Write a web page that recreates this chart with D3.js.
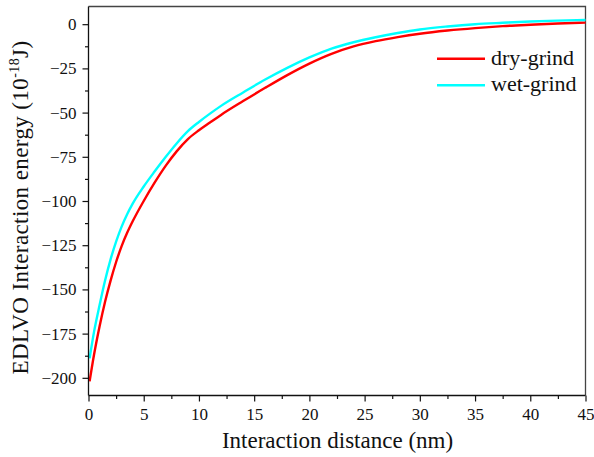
<!DOCTYPE html>
<html>
<head>
<meta charset="utf-8">
<script src="https://cdn.jsdelivr.net/npm/d3@7"></script>
<style>
  html, body { margin: 0; padding: 0; background: #fff; }
  svg { display: block; }
  text { fill: #111; font-family: "Liberation Serif", serif; }
</style>
</head>
<body>
<svg id="chart" width="594" height="457"></svg>
<script>
// Interaction distance (nm)
const distance = [0.1, 0.5, 1, 1.5, 2, 2.5, 3, 3.5, 4, 5, 6, 7, 8, 9, 10, 11, 12, 14, 16, 18, 20, 22, 24, 26, 28, 30, 32.5, 35, 37.5, 40, 42.5, 45];

// EDLVO interaction energy (10^-18 J)
const dryGrind = [-202, -187, -171, -157, -145, -134.5, -125.5, -118, -111.5, -100, -89.5, -80, -71.8, -65, -60, -55.6, -51.3, -43.5, -36, -28.8, -22.3, -16.8, -12.6, -9.6, -7.3, -5.4, -3.6, -2.2, -1.1, -0.3, 0.4, 0.9];
const wetGrind = [-189, -174, -159, -145, -133, -123, -114.5, -107.5, -101.5, -91.8, -83.2, -75, -67.3, -60.5, -55.3, -50.6, -46.2, -38.6, -31.3, -24.7, -18.8, -13.8, -10.2, -7.4, -5, -3, -1.3, 0, 0.8, 1.5, 2.0, 2.4];

const xTicks = [0, 5, 10, 15, 20, 25, 30, 35, 40, 45];
const yTicks = [0, -25, -50, -75, -100, -125, -150, -175, -200];

const series = [
  { name: "dry-grind", values: dryGrind, color: "#ff0000" },
  { name: "wet-grind", values: wetGrind, color: "#00ffff" }
];

const svg = d3.select("#chart");
const plot = { left: 88.5, right: 585.5, top: 6.5, bottom: 395.5 };

const x = d3.scaleLinear().domain([0, 45]).range([plot.left, plot.right]);
const y = d3.scaleLinear().domain([-210, 10]).range([plot.bottom, plot.top]);

// frame on the top and right
svg.append("path")
  .attr("d", `M${plot.left},${plot.top}H${plot.right}V${plot.bottom}`)
  .attr("fill", "none").attr("stroke", "#444").attr("stroke-width", 1.3);

// curves
const line = d3.line()
  .x((d, i) => x(distance[i]))
  .y(d => y(d))
  .curve(d3.curveMonotoneX);

svg.append("g").selectAll("path")
  .data(series)
  .join("path")
  .attr("d", d => line(d.values))
  .attr("fill", "none")
  .attr("stroke", d => d.color)
  .attr("stroke-width", 2.4);

// minor ticks at the half steps
const xMinor = d3.range(2.5, 45, 5);
const yMinor = d3.range(-212.5, 10, 25).filter(v => v >= -210 && v <= 10);

const gx = svg.append("g").attr("transform", `translate(0,${plot.bottom})`);
gx.call(d3.axisBottom(x).tickValues(xMinor).tickSize(3.5).tickFormat(""));
gx.call(g => g.select(".domain").remove());
const gxMajor = svg.append("g").attr("transform", `translate(0,${plot.bottom})`)
  .call(d3.axisBottom(x).tickValues(xTicks).tickSize(6).tickPadding(6).tickFormat(d3.format("d")));

const gy = svg.append("g").attr("transform", `translate(${plot.left},0)`);
gy.call(d3.axisLeft(y).tickValues(yMinor).tickSize(3.5).tickFormat(""));
gy.call(g => g.select(".domain").remove());
const gyMajor = svg.append("g").attr("transform", `translate(${plot.left},0)`)
  .call(d3.axisLeft(y).tickValues(yTicks).tickSize(6).tickPadding(6).tickFormat(d3.format("d")));

svg.selectAll(".tick line").attr("stroke", "#111").attr("stroke-width", 1.2);
svg.selectAll(".domain").attr("stroke", "#111").attr("stroke-width", 1.3);
gxMajor.select(".domain").attr("d", `M${plot.left},0H${plot.right}`);
gyMajor.select(".domain").attr("d", `M0,${plot.bottom}V${plot.top}`);
svg.selectAll("g").attr("font-family", null);
svg.selectAll(".tick text")
  .style("font-size", "17px").attr("fill", "#111");
gxMajor.selectAll(".tick text").attr("dy", null).attr("y", 24.5);

// axis titles
svg.append("text")
  .attr("x", (plot.left + plot.right) / 2 + 0.5).attr("y", 448)
  .attr("text-anchor", "middle").style("font-size", "23px")
  .text("Interaction distance (nm)");

const yt = svg.append("text")
  .attr("transform", `translate(28,207.5) rotate(-90)`)
  .attr("text-anchor", "middle").style("font-size", "23px")
  .style("letter-spacing", "0.4px");
yt.append("tspan").text("EDLVO Interaction energy (10");
yt.append("tspan").attr("dy", -9).style("font-size", "14px").text("-18");
yt.append("tspan").attr("dy", 9).text("J)");

// legend
const legend = svg.append("g");
series.forEach((s, i) => {
  const ly = 58.7 + i * 26.6;
  legend.append("line")
    .attr("x1", 437).attr("x2", 485).attr("y1", ly).attr("y2", ly)
    .attr("stroke", s.color).attr("stroke-width", 2.4);
  legend.append("text")
    .attr("x", 491).attr("y", ly + 6).style("font-size", "22px")
    .text(s.name);
});
</script>
</body>
</html>
